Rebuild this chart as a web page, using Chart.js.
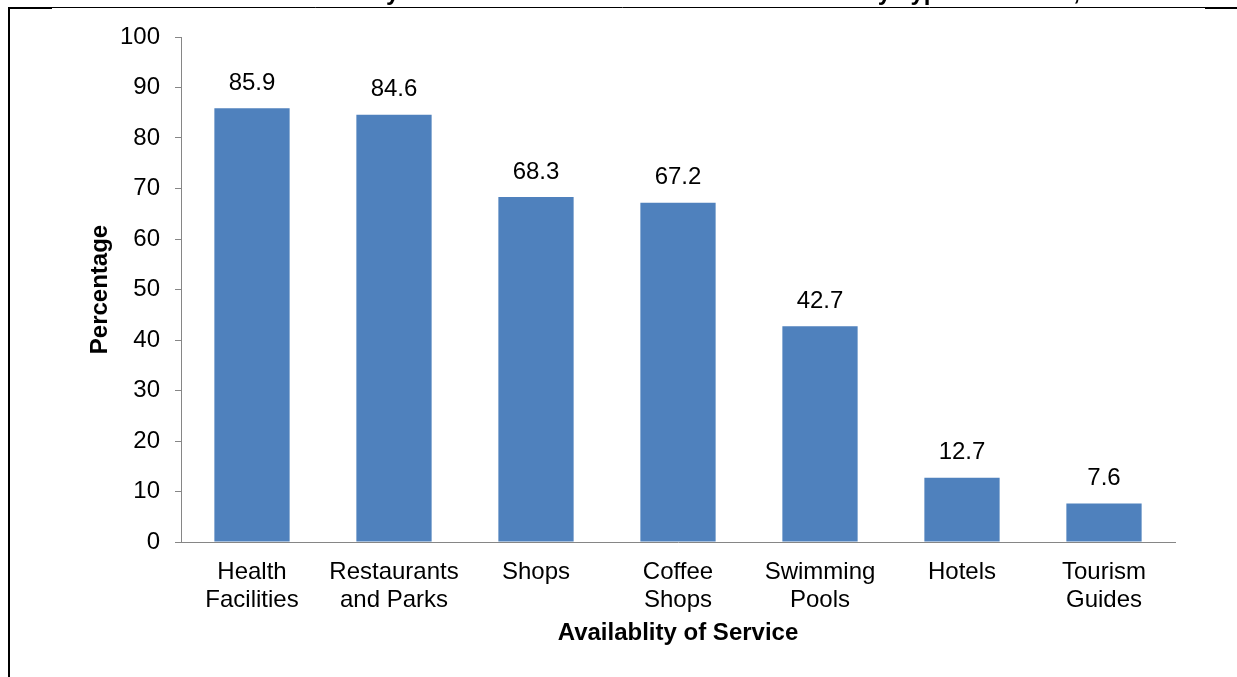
<!DOCTYPE html>
<html>
<head>
<meta charset="utf-8">
<script src="https://cdn.jsdelivr.net/npm/chart.js@4/dist/chart.umd.min.js"></script>
<style>
  html, body { margin: 0; padding: 0; background: #fff; }
  #wrap { position: relative; width: 1237px; height: 677px; }
</style>
</head>
<body>
<div id="wrap"><canvas id="chart-services"></canvas></div>
<script>
var categories = [
  ['Health', 'Facilities'],
  ['Restaurants', 'and Parks'],
  ['Shops'],
  ['Coffee', 'Shops'],
  ['Swimming', 'Pools'],
  ['Hotels'],
  ['Tourism', 'Guides']
];
var percentages = [85.9, 84.6, 68.3, 67.2, 42.7, 12.7, 7.6];
var yTicks = [0, 10, 20, 30, 40, 50, 60, 70, 80, 90, 100];

var chartTitle = 'Availability of Services Offered in the Tourist Areas by Type of Service, 2015';
var yTitle = 'Percentage';
var xTitle = 'Availablity of Service';

var FONT = "'Liberation Sans', Arial, sans-serif";

// page frame + title that is cut off at the top edge
var framePlugin = {
  id: 'frame',
  beforeDraw: function(chart) {
    var ctx = chart.ctx;
    ctx.save();
    ctx.strokeStyle = '#000';
    ctx.lineWidth = 2;
    ctx.beginPath();
    ctx.moveTo(9, 7);
    ctx.lineTo(9, 677);
    ctx.moveTo(8, 8);
    ctx.lineTo(52, 8);
    ctx.moveTo(1205, 8);
    ctx.lineTo(1237, 8);
    ctx.stroke();
    ctx.lineWidth = 1;
    ctx.beginPath();
    ctx.moveTo(8, 7.5);
    ctx.lineTo(1237, 7.5);
    ctx.stroke();

    ctx.fillStyle = '#000';
    ctx.font = 'bold 24px ' + FONT;
    ctx.textAlign = 'right';
    ctx.textBaseline = 'alphabetic';
    ctx.fillText(chartTitle, 1140, -0.5);
    ctx.restore();
  }
};

var valueLabels = {
  id: 'valueLabels',
  afterDatasetsDraw: function(chart) {
    var ctx = chart.ctx;
    var meta = chart.getDatasetMeta(0);
    ctx.save();
    ctx.fillStyle = '#000';
    ctx.font = '24px ' + FONT;
    ctx.textAlign = 'center';
    ctx.textBaseline = 'middle';
    meta.data.forEach(function(bar, i) {
      ctx.fillText(percentages[i].toFixed(1), bar.x, bar.y - 25);
    });
    ctx.restore();
  }
};

var ctx = document.getElementById('chart-services').getContext('2d');
var servicesBar = new Chart(ctx, {
  type: 'bar',
  data: {
    labels: categories,
    datasets: [{
      label: yTitle,
      data: percentages,
      backgroundColor: '#4F81BD',
      borderWidth: 0,
      categoryPercentage: 1,
      barPercentage: 0.53
    }]
  },
  options: {
    responsive: true,
    maintainAspectRatio: false,
    animation: false,
    layout: { padding: { left: 86, right: 62, top: 37, bottom: 29 } },
    plugins: {
      legend: { display: false },
      tooltip: { enabled: false }
    },
    scales: {
      x: {
        grid: { display: true, drawOnChartArea: false, drawTicks: false },
        border: { color: '#868686', width: 1 },
        ticks: {
          color: '#000',
          padding: 16,
          maxRotation: 0,
          autoSkip: false,
          font: { family: FONT, size: 24, lineHeight: 1.167 }
        },
        title: {
          display: true,
          text: xTitle,
          color: '#000',
          padding: 0,
          font: { family: FONT, size: 24, weight: 'bold', lineHeight: 1.2 }
        },
        afterFit: function(scale) { scale.height = 106; }
      },
      y: {
        min: 0,
        max: 100,
        afterBuildTicks: function(scale) {
          scale.ticks = yTicks.map(function(v) { return { value: v }; });
        },
        grid: { drawOnChartArea: false, drawTicks: true, tickLength: 6, tickColor: '#868686' },
        border: { color: '#868686', width: 1 },
        ticks: {
          color: '#000',
          padding: 15,
          font: { family: FONT, size: 24 }
        },
        title: {
          display: true,
          text: yTitle,
          color: '#000',
          padding: 0,
          font: { family: FONT, size: 24, weight: 'bold', lineHeight: 1.2 }
        },
        afterFit: function(scale) { scale.width = 95; }
      }
    }
  },
  plugins: [framePlugin, valueLabels]
});
</script>
</body>
</html>
